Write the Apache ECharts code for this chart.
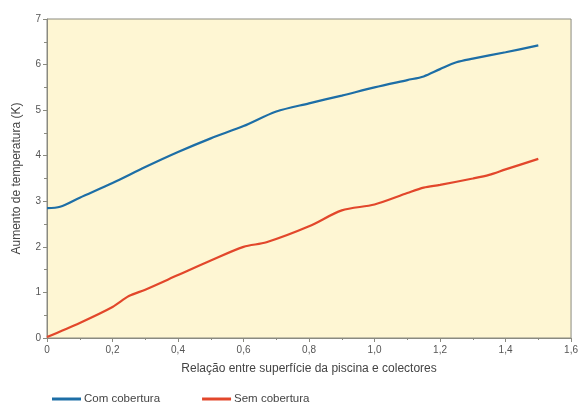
<!DOCTYPE html>
<html><head><meta charset="utf-8">
<script src="https://cdn.jsdelivr.net/npm/echarts@6/dist/echarts.min.js"></script>
<style>html,body{margin:0;padding:0;background:#fff}#c{width:581px;height:403px}</style>
</head><body><div id="c"></div>
<script>
var seriesNames = ["Com cobertura", "Sem cobertura"];
var comX = [0, 0.04, 0.1, 0.2, 0.3, 0.4, 0.5, 0.6, 0.7, 0.8, 0.9, 1.0, 1.1, 1.15, 1.2, 1.25, 1.3, 1.4, 1.5];
var comY = [2.85, 2.88, 3.08, 3.4, 3.75, 4.08, 4.38, 4.65, 4.97, 5.15, 5.32, 5.5, 5.66, 5.74, 5.9, 6.05, 6.13, 6.27, 6.42];
var semX = [0, 0.1, 0.2, 0.25, 0.3, 0.4, 0.5, 0.6, 0.67, 0.8, 0.9, 1.0, 1.1, 1.15, 1.2, 1.3, 1.35, 1.4, 1.5];
var semY = [0.02, 0.33, 0.68, 0.92, 1.06, 1.38, 1.7, 2.0, 2.1, 2.45, 2.8, 2.93, 3.18, 3.3, 3.36, 3.5, 3.58, 3.7, 3.93];
var xTitle = "Relação entre superfície da piscina e colectores";
var yTitle = "Aumento de temperatura (K)";

function pairs(xs, ys){ return xs.map(function(x,i){ return [x, ys[i]]; }); }
var font = "'Liberation Sans', Arial, sans-serif";
var chart = echarts.init(document.getElementById('c'));
chart.setOption({
  animation: false,
  textStyle: {fontFamily: font},
  grid: {left: 47, right: 6, top: 19, bottom: 65, show: true, backgroundColor: '#fef6d3', borderColor: '#8a8a80', borderWidth: 1},
  legend: {
    left: 47, top: 388, itemWidth: 29, itemHeight: 3, itemGap: 42, icon: 'rect',
    textStyle: {fontFamily: font, fontSize: 11.5, color: '#444', padding: [0,0,0,-2]},
    data: seriesNames
  },
  xAxis: {
    type: 'value', min: 0, max: 1.6, interval: 0.2,
    name: xTitle, nameLocation: 'middle', nameGap: 25,
    nameTextStyle: {fontFamily: font, fontSize: 12, color: '#444'},
    axisLine: {lineStyle: {color: '#8a8a80'}},
    axisTick: {show: true, length: 4, lineStyle: {color: '#8a8a80'}},
    minorTick: {show: true, splitNumber: 2, length: 2, lineStyle: {color: '#8a8a80'}},
    splitLine: {show: false},
    axisLabel: {color: '#555', fontSize: 10, margin: 7, formatter: function(v){ return v === 0 ? '0' : v.toFixed(1).replace('.', ','); }}
  },
  yAxis: {
    type: 'value', min: 0, max: 7, interval: 1,
    name: yTitle, nameLocation: 'middle', nameGap: 24, nameRotate: 90,
    nameTextStyle: {fontFamily: font, fontSize: 12, color: '#444'},
    axisLine: {show: true, lineStyle: {color: '#8a8a80'}},
    axisTick: {show: true, length: 4, lineStyle: {color: '#8a8a80'}},
    minorTick: {show: true, splitNumber: 2, length: 3, lineStyle: {color: '#8a8a80'}},
    splitLine: {show: false},
    axisLabel: {color: '#555', fontSize: 10, margin: 6}
  },
  series: [
    {name: seriesNames[0], type: 'line', data: pairs(comX, comY), smooth: 0.3, showSymbol: false, symbol: 'none',
     lineStyle: {color: '#1d6ea6', width: 2.2}, itemStyle: {color: '#1d6ea6'}},
    {name: seriesNames[1], type: 'line', data: pairs(semX, semY), smooth: 0.3, showSymbol: false, symbol: 'none',
     lineStyle: {color: '#e2472b', width: 2.2}, itemStyle: {color: '#e2472b'}}
  ]
});
</script></body></html>
